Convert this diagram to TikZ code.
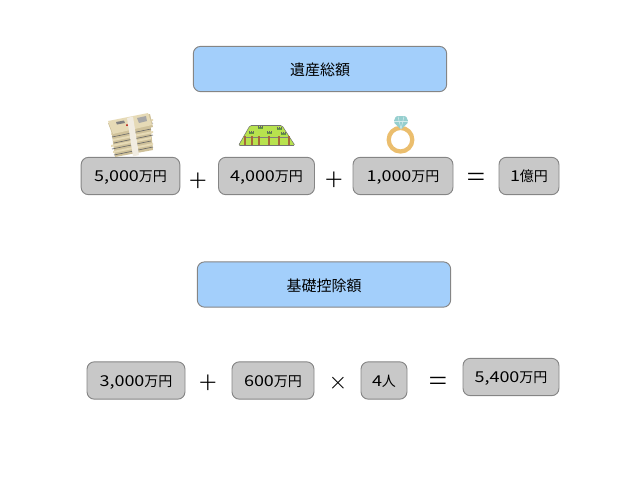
\documentclass[tikz,border=0pt]{standalone}
\usepackage{fontspec}
\setmainfont{Noto Sans CJK JP}
\newfontfamily\digitfont[FakeStretch=1.2]{Noto Sans CJK JP}
\newfontfamily\signfont[UprightFont=* Light]{Lato}
\newcommand{\amount}[1]{{\fontsize{11.25}{13}\digitfont #1}}
\definecolor{headblue}{HTML}{A3CFFB}
\definecolor{valuegray}{HTML}{C8C8C8}
\definecolor{edgegray}{HTML}{858585}
\definecolor{notetan}{HTML}{E6DAB6}
\definecolor{sidetan}{HTML}{CFC19A}
\definecolor{landgreen}{HTML}{B8E24E}
\definecolor{bushgreen}{HTML}{5E9A3A}
\definecolor{postbrown}{HTML}{A5693A}
\definecolor{ringgold}{HTML}{EBBE6E}
\definecolor{gemblue}{HTML}{96CFCF}
\tikzset{
    headbox/.style={draw=edgegray,fill=headblue,rounded corners=5.5pt,line width=0.7pt,minimum height=34pt,text height=11pt,text depth=1pt,font=\fontsize{11.25}{13}\selectfont},
    valuebox/.style={draw=edgegray,fill=valuegray,rounded corners=5.5pt,line width=0.7pt,minimum height=28pt,inner sep=0pt,text height=10pt,text depth=1.4pt,font=\fontsize{10.5}{13}\selectfont},
    opsign/.style={inner sep=0pt,font=\fontsize{24}{28}\signfont},
    equalsign/.style={inner sep=0pt,font=\fontsize{28}{32}\signfont},
    timessign/.style={inner sep=0pt,font=\fontsize{21}{24}\signfont},
}
\begin{document}
\begin{tikzpicture}[x=0.75pt,y=-0.75pt]
        \useasboundingbox (0,0) rectangle (640,480);
        \node[headbox,minimum width=190pt] (total) at (320,69) {遺産総額};
        \node[valuebox,minimum width=74pt] (cash) at (130.5,176) {\amount{5,000}万円};
        \node[opsign] (plusa) at (198,182) {+};
        \node[valuebox,minimum width=72pt] (land) at (266.5,176) {\amount{4,000}万円};
        \node[opsign] (plusb) at (334,181) {+};
        \node[valuebox,minimum width=75pt] (ring) at (403,176) {\amount{1,000}万円};
        \node[equalsign] (equala) at (476,181) {=};
        \node[valuebox,minimum width=45pt] (sum) at (529,176) {\amount{1}億円};
        \node[headbox,minimum width=190pt] (basic) at (324,284.5) {基礎控除額};
        \node[valuebox,minimum width=73.5pt] (base) at (136,380.5) {\amount{3,000}万円};
        \node[opsign] (plusc) at (208,384) {+};
        \node[valuebox,minimum width=61.5pt] (unit) at (273,380.5) {\amount{600}万円};
        \node[timessign] (times) at (338,385) {×};
        \node[valuebox,minimum width=34.5pt] (heirs) at (384,380.5) {\amount{4}人};
        \node[equalsign] (equalb) at (438,385.5) {=};
        \node[valuebox,minimum width=72pt] (deduct) at (511,377) {\amount{5,400}万円};
        % bundles of notes
        \fill[sidetan] (111,128) -- (150,120) -- (153,150) -- (115,157) -- cycle;
        \foreach \y/\s in {155/1,149/-1,143/1,137/-1,131/1} {
            \draw[black!60,line width=0.45pt] (113+\s,\y) -- (152+\s,\y-8);
            \fill[notetan] (112+\s,\y-4) -- (152+\s,\y-12) -- (152+\s,\y-10) -- (112+\s,\y-2) -- cycle;
        }
        \fill[sidetan] (108,123) -- (150,114) -- (153,127) -- (113,136) -- cycle;
        \fill[notetan] (108,121) -- (148,113) -- (152,125) -- (113,134) -- cycle;
        \fill[white!70!sidetan] (127,118) -- (133,116.5) -- (139,155) -- (133,156.5) -- cycle;
        \fill[black!50] (116,122) -- (124,120.5) -- (125,123) -- (117,124.5) -- cycle;
        \fill[red!70!black] (127,125) circle (1);
        \fill[black!35] (137,118) -- (146,116) -- (147,121) -- (139,123) -- cycle;
        % land with a fence
        \draw[black!55,fill=landgreen,line width=0.4pt,rounded corners=1pt] (238.5,145.5) -- (250,125.5) -- (282,125.5) -- (295,145.5) -- cycle;
        \foreach \x/\y in {260/128,279/129,251/133,269/133,283/134} {
            \fill[bushgreen] (\x-2.5,\y-1) rectangle (\x+2.5,\y+1);
            \draw[black!60,line width=0.25pt] (\x-2,\y-2) -- (\x-2,\y) (\x,\y-2) -- (\x,\y) (\x+2,\y-2) -- (\x+2,\y);
        }
        \draw[black!50,line width=0.3pt] (245,137.5) -- (289,137.5);
        \foreach \x in {245,252,259,269,279,289} {
            \draw[postbrown,line width=1pt] (\x,136) -- (\x,145);
        }
        % ring with a stone
        \draw[ringgold,line width=3.2pt] (400.5,139.7) circle (11.8);
        \fill[gemblue,rounded corners=1pt] (396,116) -- (406,116) -- (408.5,122) -- (401,129.5) -- (393.5,122) -- cycle;
        \draw[white!60!gemblue,line width=0.4pt] (394,121.5) -- (408,121.5) (398,116.5) -- (401,129) -- (404,116.5);
    \end{tikzpicture}
\end{document}
